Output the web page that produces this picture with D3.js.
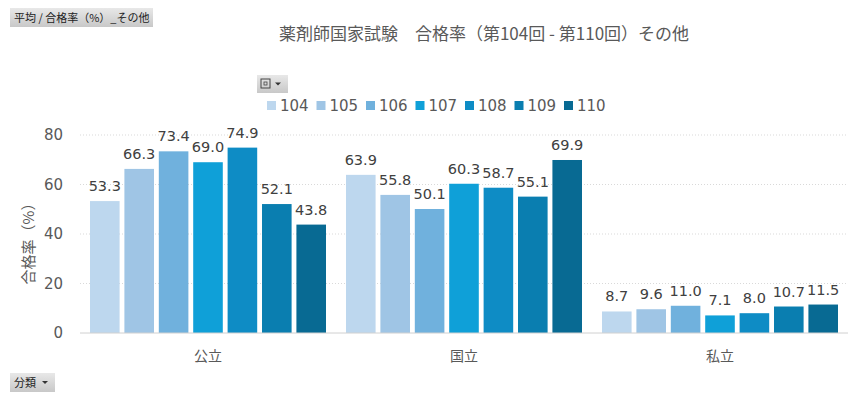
<!DOCTYPE html>
<html>
<head>
<meta charset="utf-8">
<script src="https://cdn.jsdelivr.net/npm/d3@7"></script>
<style>
  body { margin: 0; background: #fff; font-family: "Noto Sans CJK JP", "DejaVu Sans", sans-serif; }
  svg { display: block; }
</style>
</head>
<body>
<script>
const width = 867
const height = 402

const categories = ['公立', '国立', '私立']
const rounds = ['104', '105', '106', '107', '108', '109', '110']
const values = {
  '公立': [53.3, 66.3, 73.4, 69.0, 74.9, 52.1, 43.8],
  '国立': [63.9, 55.8, 50.1, 60.3, 58.7, 55.1, 69.9],
  '私立': [8.7, 9.6, 11.0, 7.1, 8.0, 10.7, 11.5]
}
const yTicks = [0, 20, 40, 60, 80]
const colors = ['#bdd7ee', '#9fc5e5', '#70b1dd', '#0fa0d8', '#0e8cc5', '#0a7eb0', '#086a93']

const svg = d3.select('body').append('svg')
  .attr('width', width)
  .attr('height', height)

const x0 = d3.scaleBand().domain(categories).range([80, 848]).paddingInner(0).paddingOuter(0)
const x1 = d3.scaleBand().domain(rounds).range([10, x0.bandwidth() - 10]).paddingInner(0.14).paddingOuter(0)
const y = d3.scaleLinear().domain([0, 80]).range([333, 135])
const color = d3.scaleOrdinal().domain(rounds).range(colors)

// grid
svg.append('g')
  .selectAll('line')
  .data(yTicks.filter(d => d > 0))
  .join('line')
  .attr('x1', 80).attr('x2', 848)
  .attr('y1', d => y(d)).attr('y2', d => y(d))
  .attr('stroke', '#d9d9d9')
  .attr('stroke-dasharray', '1,2')

// y axis labels
const yAxis = svg.append('g')
  .attr('transform', 'translate(63,0)')
  .call(d3.axisLeft(y).tickValues(yTicks).tickSize(0).tickPadding(0))
yAxis.select('.domain').remove()
yAxis.selectAll('text')
  .attr('fill', '#595959')
  .style('font-family', '"DejaVu Sans", sans-serif')
  .style('font-size', '15px')

svg.append('text')
  .attr('transform', 'translate(34,240) rotate(-90)')
  .attr('text-anchor', 'middle')
  .attr('fill', '#595959')
  .style('font-size', '15px')
  .text('合格率（%）')

// bars
const groups = svg.append('g')
  .selectAll('g')
  .data(categories)
  .join('g')
  .attr('transform', d => `translate(${x0(d)},0)`)

const bars = groups.selectAll('g')
  .data(c => rounds.map((r, i) => ({ r, v: values[c][i] })))
  .join('g')

bars.append('rect')
  .attr('x', d => x1(d.r))
  .attr('width', x1.bandwidth())
  .attr('y', d => y(d.v))
  .attr('height', d => y(0) - y(d.v))
  .attr('fill', d => color(d.r))

bars.append('text')
  .attr('x', d => x1(d.r) + x1.bandwidth() / 2)
  .attr('y', d => y(d.v) - 10)
  .attr('text-anchor', 'middle')
  .attr('fill', '#404040')
  .style('font-family', '"DejaVu Sans", sans-serif')
  .style('font-size', '14.5px')
  .text(d => d.v.toFixed(1))

// baseline
svg.append('line')
  .attr('x1', 80).attr('x2', 848)
  .attr('y1', y(0)).attr('y2', y(0))
  .attr('stroke', '#d0d0d0')

// category labels
svg.append('g')
  .selectAll('text')
  .data(categories)
  .join('text')
  .attr('x', d => x0(d) + x0.bandwidth() / 2)
  .attr('y', 361)
  .attr('text-anchor', 'middle')
  .attr('fill', '#595959')
  .style('font-size', '14px')
  .text(d => d)

// title
svg.append('text')
  .attr('x', 484)
  .attr('y', 40)
  .attr('text-anchor', 'middle')
  .attr('fill', '#595959')
  .style('font-size', '17px')
  .text('薬剤師国家試験\u3000合格率（第104回 - 第110回）その他')

// legend
const legend = svg.append('g')
  .selectAll('g')
  .data(rounds)
  .join('g')
  .attr('transform', (d, i) => `translate(${267 + i * 49.5},101)`)
legend.append('rect')
  .attr('width', 9).attr('height', 9)
  .attr('fill', d => color(d))
legend.append('text')
  .attr('x', 13).attr('y', 9.5)
  .attr('fill', '#595959')
  .style('font-family', '"DejaVu Sans", sans-serif')
  .style('font-size', '15px')
  .text(d => d)

// field buttons
function button(x, yy, w, h, label, arrow) {
  const g = svg.append('g').attr('transform', `translate(${x},${yy})`)
  const grad = 'g' + Math.round(x) + Math.round(yy)
  const lg = svg.append('defs').append('linearGradient').attr('id', grad).attr('x1', 0).attr('x2', 0).attr('y1', 0).attr('y2', 1)
  lg.append('stop').attr('offset', 0).attr('stop-color', '#e8e8e8')
  lg.append('stop').attr('offset', 1).attr('stop-color', '#c8c8c8')
  g.append('rect').attr('width', w).attr('height', h).attr('fill', `url(#${grad})`)
  if (label) {
    g.append('text').attr('x', 4).attr('y', h / 2 + 4)
      .attr('fill', '#222').style('font-size', '11px').text(label)
  }
  if (arrow) {
    const ax = w - 10
    g.append('path').attr('d', `M${ax - 3},${h / 2 - 1.5}L${ax + 3},${h / 2 - 1.5}L${ax},${h / 2 + 1.5}Z`).attr('fill', '#333')
  }
  return g
}
button(10, 8, 143, 19, '平均 / 合格率（%）_その他', false)
button(10, 373, 45, 19, '分類', true)
const lb = button(257, 75, 31, 18, '', true)
lb.append('rect').attr('x', 4).attr('y', 4).attr('width', 9).attr('height', 9)
  .attr('fill', 'none').attr('stroke', '#444')
lb.append('rect').attr('x', 7).attr('y', 7).attr('width', 3).attr('height', 3)
  .attr('fill', 'none').attr('stroke', '#444').attr('stroke-width', 0.8)
</script>
</body>
</html>
